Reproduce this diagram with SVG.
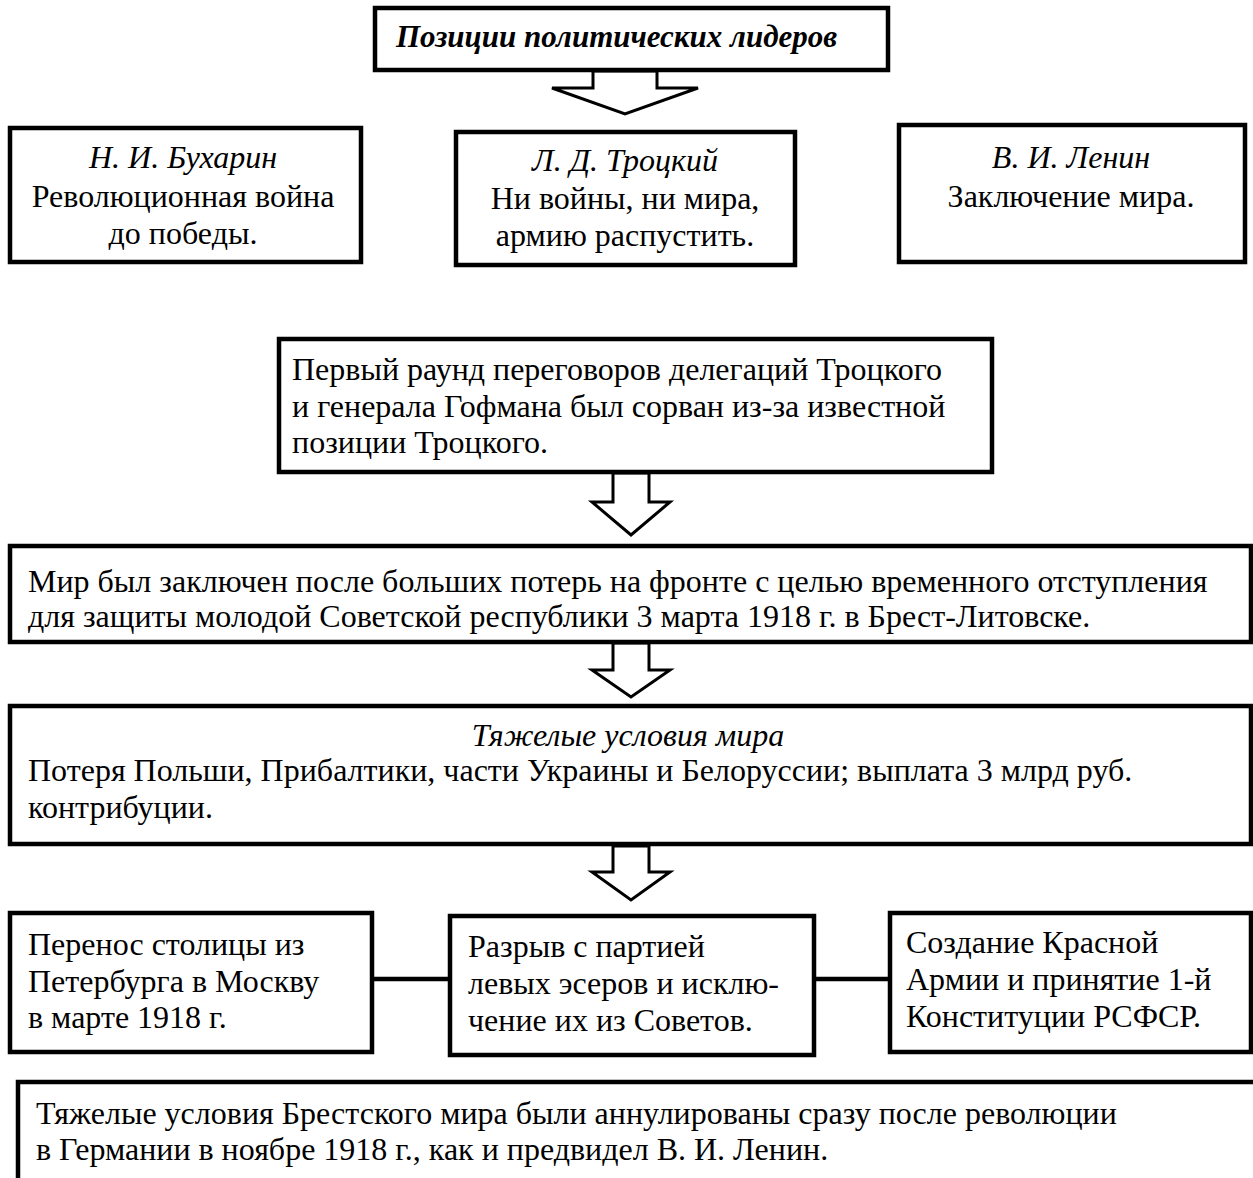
<svg xmlns="http://www.w3.org/2000/svg" width="1253" height="1178" viewBox="0 0 1253 1178">
<style>
.box{fill:#fff;stroke:#000;stroke-width:4.5}
.arr{fill:#fff;stroke:#000;stroke-width:3;stroke-linejoin:miter}
.ln{stroke:#000;stroke-width:4.5;fill:none}
text{font-family:"Liberation Serif","Times New Roman",serif;font-size:32px;fill:#000}
.c{text-anchor:middle}
.i{font-style:italic}
.t{font-weight:bold;font-style:italic;font-size:31px}
</style>
<rect width="1253" height="1178" fill="#fff"/>
<g id="connectors">
<polygon class="arr" points="593,71 593,88 552,88 625,114 698,88 657,88 657,71"/>
<polygon class="arr" points="613,473 613,502 592,502 631,535 670,502 649,502 649,473"/>
<polygon class="arr" points="613,643 613,670 592,670 631,697 670,670 649,670 649,643"/>
<polygon class="arr" points="613,846 613,872 592,872 631,900 670,872 649,872 649,846"/>
<line class="ln" x1="372" y1="979" x2="450" y2="979"/>
<line class="ln" x1="814" y1="979" x2="890" y2="979"/>
</g>
<g id="title">
<rect class="box" x="375" y="8" width="513" height="62"/>
<text class="t" x="396" y="47">Позиции политических лидеров</text>
</g>
<g id="bukharin">
<rect class="box" x="10" y="128" width="351" height="134"/>
<text class="c i" x="183" y="168">Н. И. Бухарин</text>
<text class="c" x="183" y="207">Революционная война</text>
<text class="c" x="183" y="244">до победы.</text>
</g>
<g id="trotsky">
<rect class="box" x="456" y="132" width="339" height="133"/>
<text class="c i" x="625" y="171">Л. Д. Троцкий</text>
<text class="c" x="625" y="209">Ни войны, ни мира,</text>
<text class="c" x="625" y="246">армию распустить.</text>
</g>
<g id="lenin">
<rect class="box" x="899" y="125" width="346" height="137"/>
<text class="c i" x="1071" y="168">В. И. Ленин</text>
<text class="c" x="1071" y="207">Заключение мира.</text>
</g>
<g id="round">
<rect class="box" x="279" y="339" width="713" height="133"/>
<text x="292" y="380">Первый раунд переговоров делегаций Троцкого</text>
<text x="292" y="417">и генерала Гофмана был сорван из-за известной</text>
<text x="292" y="453">позиции Троцкого.</text>
</g>
<g id="peace">
<rect class="box" x="10" y="546" width="1241" height="96"/>
<text x="28" y="592">Мир был заключен после больших потерь на фронте с целью временного отступления</text>
<text x="28" y="627">для защиты молодой Советской республики 3 марта 1918 г. в Брест-Литовске.</text>
</g>
<g id="conditions">
<rect class="box" x="10" y="706" width="1241" height="138"/>
<text class="c i" x="628" y="746">Тяжелые условия мира</text>
<text x="28" y="781">Потеря Польши, Прибалтики, части Украины и Белоруссии; выплата 3 млрд руб.</text>
<text x="28" y="818">контрибуции.</text>
</g>
<g id="capital">
<rect class="box" x="10" y="913" width="362" height="139"/>
<text x="28" y="955">Перенос столицы из</text>
<text x="28" y="992">Петербурга в Москву</text>
<text x="28" y="1028">в марте 1918 г.</text>
</g>
<g id="sr">
<rect class="box" x="450" y="916" width="364" height="139"/>
<text x="468" y="957">Разрыв с партией</text>
<text x="468" y="994">левых эсеров и исклю-</text>
<text x="468" y="1031">чение их из Советов.</text>
</g>
<g id="army">
<rect class="box" x="890" y="913" width="361" height="139"/>
<text x="906" y="953">Создание Красной</text>
<text x="906" y="990">Армии и принятие 1-й</text>
<text x="906" y="1027">Конституции РСФСР.</text>
</g>
<g id="annul">
<path class="ln" d="M18,1180 V1082 H1260"/>
<text x="36" y="1124">Тяжелые условия Брестского мира были аннулированы сразу после революции</text>
<text x="36" y="1160">в Германии в ноябре 1918 г., как и предвидел В. И. Ленин.</text>
</g>
</svg>
